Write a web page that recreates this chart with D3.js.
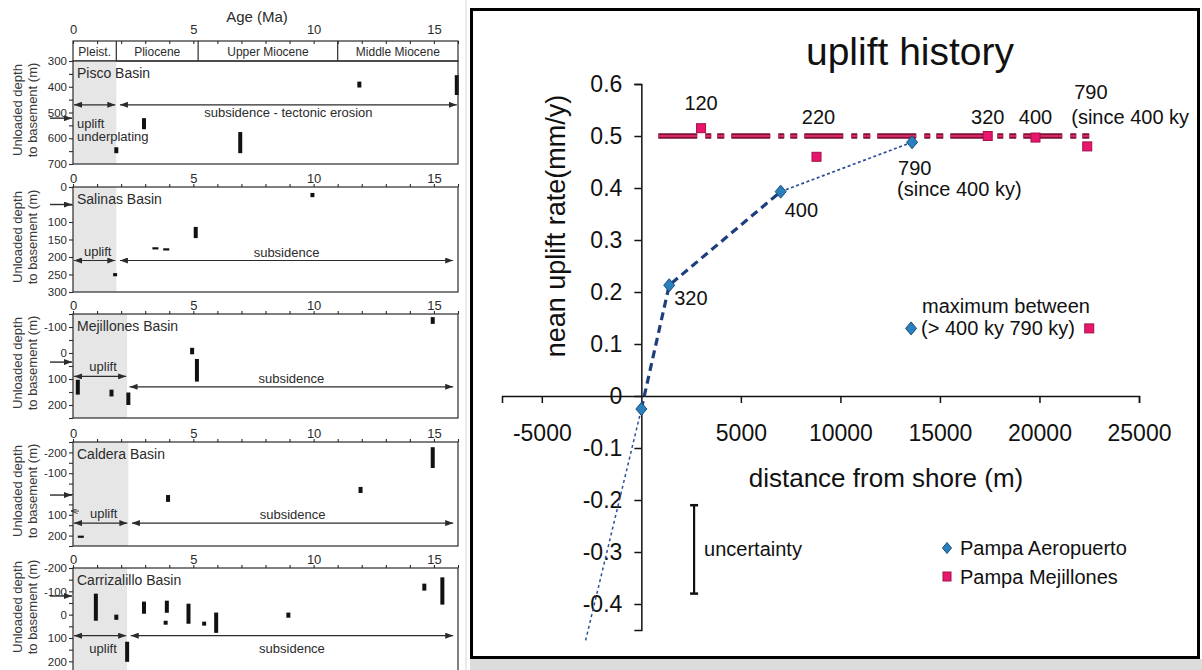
<!DOCTYPE html>
<html>
<head>
<meta charset="utf-8">
<script src="https://cdn.jsdelivr.net/npm/d3@7"></script>
<style>
  body { margin: 0; background: #fff; }
  svg { display: block; font-family: "Liberation Sans", Arial, Helvetica, sans-serif; }
</style>
</head>
<body>
<svg id="fig" width="1202" height="670"></svg>
<script>
// ---------- left figure data (age in Ma, depth in m) ----------
const ageTicks = [0, 5, 10, 15];
const epochNames = ["Pleist.", "Pliocene", "Upper Miocene", "Middle Miocene"];
const epochBounds = [0, 1.8, 5.2, 11.0, 16];

const basinNames = ["Pisco Basin", "Salinas Basin", "Mejillones Basin", "Caldera Basin", "Carrizalillo Basin"];
const basinDepthRanges = [[300, 700], [0, 300], [-150, 250], [-250, 250], [-200, 250]];
const basinDepthLabels = [
  [300, 400, 500, 600, 700],
  [0, 100, 150, 200, 250, 300],
  [-100, 0, 100, 200],
  [-200, -100, 100, 200],
  [-200, -100, 0, 100, 200]
];
const upliftEnd = [1.8, 1.8, 2.25, 2.3, 2.25];
const subsidenceStart = [1.95, 1.95, 2.35, 2.45, 2.4];
const subsidenceEnd = [15.95, 15.8, 15.8, 15.8, 15.8];
const upliftArrowDepth = [470, 210, 90, 140, 90];
const subsidenceArrowDepth = [470, 210, 130, 140, 90];
const presentDepth = [522, 50, 35, 5, -80];
const upliftText = [["uplift", "underplating"], ["uplift"], ["uplift"], ["uplift"], ["uplift"]];
const subsidenceText = ["subsidence - tectonic erosion", "subsidence", "subsidence", "subsidence", "subsidence"];

// bars: [age, top depth, bottom depth]
const piscoBars = [[11.9, 380, 403], [15.95, 355, 432], [2.95, 522, 565], [6.95, 576, 658], [1.8, 635, 658]];
const salinasBars = [[9.95, 17, 29], [5.1, 114, 146], [1.75, 246, 255]];
const mejillonesBars = [[14.95, -138, -112], [4.95, -20, 5], [5.15, 23, 110], [0.2, 103, 160], [1.6, 141, 167], [2.3, 152, 200]];
const calderaBars = [[14.95, -225, -125], [11.95, -34, -5], [3.95, 5, 38]];
const carrizalilloBars = [
  [0.95, -90, 26], [1.8, 0, 22], [2.25, 116, 202], [2.95, -56, -4], [3.9, -60, -8], [3.85, 26, 43],
  [4.8, -47, 39], [5.45, 30, 47], [5.95, -9, 78], [8.95, -9, 13], [14.6, -133, -103], [15.35, -160, -43]
];
const basinBars = [piscoBars, salinasBars, mejillonesBars, calderaBars, carrizalilloBars];
// short horizontal dashes: [age from, age to, depth]
const salinasDashes = [[3.3, 3.55, 175], [3.75, 4.0, 178]];
const calderaDashes = [[0.2, 0.45, 205]];
const basinDashes = [[], salinasDashes, [], calderaDashes, []];

// ---------- right chart data ----------
const aeroDist = [0, 1400, 7000, 13600];
const aeroRate = [-0.025, 0.213, 0.393, 0.488];
const aeroLabels = ["", "320", "400", "790"];
const aeroTrendDist = [-2800, 0];
const aeroTrendRate = [-0.47, -0.025];
const mejDist = [3000, 8800, 17400, 19800, 22400];
const mejRate = [0.515, 0.46, 0.5, 0.497, 0.48];
const mejLabels = ["120", "220", "320", "400", "790"];
const mejMeanRate = 0.5;
const mejMeanDist = [850, 22550];
const maxDist = [13550, 22500];
const maxRate = 0.13;
const uncertaintyDist = 2650;
const uncertaintyRate = [-0.21, -0.38];
const xTickValues = [-5000, 5000, 10000, 15000, 20000, 25000];
const yTickValues = [0.6, 0.5, 0.4, 0.3, 0.2, 0.1, 0, -0.1, -0.2, -0.3, -0.4];

// ---------- layout ----------
const svg = d3.select("#fig");
const ink = "#2b2b2b";
const defs = svg.append("defs");
defs.append("marker").attr("id", "ah")
  .attr("viewBox", "0 0 8 6").attr("refX", 8).attr("refY", 3)
  .attr("markerWidth", 8).attr("markerHeight", 6).attr("markerUnits", "userSpaceOnUse")
  .attr("orient", "auto-start-reverse")
  .append("path").attr("d", "M0,0L8,3L0,6Z").attr("fill", ink);
defs.append("marker").attr("id", "ahOpen")
  .attr("viewBox", "0 0 8 6").attr("refX", 8).attr("refY", 3)
  .attr("markerWidth", 7).attr("markerHeight", 5).attr("markerUnits", "userSpaceOnUse")
  .attr("orient", "auto")
  .append("path").attr("d", "M0,0L8,3L0,6").attr("fill", "none").attr("stroke", ink).attr("stroke-width", 1);

const xAge = d3.scaleLinear().domain([0, 16]).range([73, 458]);
const panelTop = [61, 187, 314, 442, 568];
const panelBottom = [164, 292, 418, 546, 673];
const titleMid = [110, 237, 363, 491, 607];

// "Age (Ma)" and epoch band
svg.append("text").attr("x", 257).attr("y", 22).attr("text-anchor", "middle")
  .attr("font-size", 15).attr("fill", ink).text("Age (Ma)");
svg.append("rect").attr("x", xAge(0)).attr("y", 41).attr("width", xAge(16) - xAge(0)).attr("height", 20)
  .attr("fill", "none").attr("stroke", ink).attr("stroke-width", 1.2);
epochNames.forEach((n, i) => {
  if (i > 0) svg.append("line").attr("x1", xAge(epochBounds[i])).attr("x2", xAge(epochBounds[i]))
    .attr("y1", 41).attr("y2", 61).attr("stroke", ink).attr("stroke-width", 1.2);
  svg.append("text").attr("x", (xAge(epochBounds[i]) + xAge(epochBounds[i + 1])) / 2).attr("y", 56)
    .attr("text-anchor", "middle").attr("font-size", 12).attr("fill", ink).text(n);
});

basinNames.forEach((name, i) => {
  const y = d3.scaleLinear().domain(basinDepthRanges[i]).range([panelTop[i], panelBottom[i]]);
  const g = svg.append("g");
  const top = panelTop[i], bot = panelBottom[i];

  g.append("rect").attr("x", xAge(0)).attr("y", top)
    .attr("width", xAge(upliftEnd[i]) - xAge(0)).attr("height", bot - top).attr("fill", "#e6e6e6");

  g.selectAll(".bar").data(basinBars[i]).join("rect")
    .attr("x", d => xAge(d[0]) - 2).attr("width", 4)
    .attr("y", d => y(d[1])).attr("height", d => y(d[2]) - y(d[1]))
    .attr("fill", "#111");
  g.selectAll(".dash").data(basinDashes[i]).join("rect")
    .attr("x", d => xAge(d[0])).attr("width", d => xAge(d[1]) - xAge(d[0]))
    .attr("y", d => y(d[2]) - 1).attr("height", 2.2).attr("fill", "#111");

  g.append("rect").attr("x", xAge(0)).attr("y", top).attr("width", xAge(16) - xAge(0)).attr("height", bot - top)
    .attr("fill", "none").attr("stroke", ink).attr("stroke-width", 1.2);

  // depth axis
  const dr = basinDepthRanges[i];
  const yAxis = d3.axisLeft(y).tickValues(d3.range(dr[0], dr[1] + 1, 50))
    .tickSize(4).tickPadding(2)
    .tickFormat(d => basinDepthLabels[i].includes(d) ? String(d) : "");
  g.append("g").attr("transform", `translate(${xAge(0)},0)`).call(yAxis)
    .call(a => a.select(".domain").remove())
    .call(a => a.selectAll("line").attr("stroke", ink).attr("stroke-width", 1.1))
    .call(a => a.selectAll("text").attr("font-size", 11.5).attr("fill", ink).attr("font-family", null));

  // age axis on top
  const ax = d3.axisTop(xAge).tickValues(d3.range(0, 17)).tickSizeOuter(0)
    .tickSize(i === 0 ? 0 : 3).tickPadding(i === 0 ? 7 : 1)
    .tickFormat(d => ageTicks.includes(d) ? String(d) : "");
  const axG = g.append("g").attr("transform", `translate(0,${i === 0 ? 41 : top})`).call(ax)
    .call(a => a.select(".domain").remove())
    .call(a => a.selectAll("line").attr("stroke", ink).attr("stroke-width", 1.1))
    .call(a => a.selectAll("text").attr("font-size", 13).attr("fill", ink).attr("font-family", null));
  if (i === 0) {
    axG.selectAll(".tick").append("line").attr("y2", 3).attr("stroke", ink).attr("stroke-width", 1.1);
  }

  // panel name
  g.append("text").attr("x", xAge(0) + 4).attr("y", top + 17).attr("font-size", 14).attr("fill", ink).text(name);

  // y title
  const tt = g.append("text").attr("transform", `translate(0,${titleMid[i]}) rotate(-90)`)
    .attr("text-anchor", "middle").attr("font-size", 13).attr("fill", "#3a3a3a");
  tt.append("tspan").attr("x", 0).attr("y", 22).text("Unloaded depth");
  tt.append("tspan").attr("x", 0).attr("y", 37).text("to basement (m)");

  // present-day depth arrow
  g.append("line").attr("x1", 50).attr("x2", 72).attr("y1", y(presentDepth[i])).attr("y2", y(presentDepth[i]))
    .attr("stroke", ink).attr("stroke-width", 1.4).attr("marker-end", "url(#ah)");

  // uplift / subsidence arrows
  const yu = y(upliftArrowDepth[i]), ys = y(subsidenceArrowDepth[i]);
  g.append("line").attr("x1", xAge(0) + 1).attr("x2", xAge(upliftEnd[i]) - 1).attr("y1", yu).attr("y2", yu)
    .attr("stroke", ink).attr("stroke-width", 1.2)
    .attr("marker-start", "url(#ah)").attr("marker-end", "url(#ah)");
  g.append("line").attr("x1", xAge(subsidenceStart[i])).attr("x2", xAge(subsidenceEnd[i])).attr("y1", ys).attr("y2", ys)
    .attr("stroke", ink).attr("stroke-width", 1.2)
    .attr("marker-start", "url(#ah)").attr("marker-end", "url(#ah)");

  const below = i === 0 || i === 4;
  if (i === 0) {
    upliftText[i].forEach((t, k) => {
      g.append("text").attr("x", xAge(0) + 4).attr("y", yu + 23 + k * 13.5)
        .attr("font-size", 13).attr("fill", ink).text(t);
    });
  } else {
    g.append("text").attr("x", (xAge(0) + xAge(upliftEnd[i])) / 2 + 3).attr("y", below ? yu + 17 : yu - 5)
      .attr("text-anchor", "middle").attr("font-size", 13).attr("fill", ink).text(upliftText[i][0]);
  }
  g.append("text").attr("x", (xAge(subsidenceStart[i]) + xAge(subsidenceEnd[i])) / 2)
    .attr("y", below ? ys + (i === 0 ? 12 : 17) : ys - 4)
    .attr("text-anchor", "middle").attr("font-size", 13).attr("fill", ink).text(subsidenceText[i]);

  // small open marker in Caldera panel
  if (i === 3) {
    g.append("line").attr("x1", 79).attr("x2", 71).attr("y1", y(82)).attr("y2", y(82))
      .attr("stroke", ink).attr("stroke-width", 0.8).attr("marker-end", "url(#ahOpen)");
  }
});

// faint separator
svg.append("line").attr("x1", 466).attr("x2", 466).attr("y1", 0).attr("y2", 670)
  .attr("stroke", "#d6d6d6").attr("stroke-width", 1);

// ---------- right chart ----------
const R = svg.append("g");
R.append("rect").attr("x", 470).attr("y", 659).attr("width", 732).attr("height", 11).attr("fill", "#dcdcdc");
R.append("rect").attr("x", 471.5).attr("y", 9.5).attr("width", 727).attr("height", 648)
  .attr("fill", "#fff").attr("stroke", "#000").attr("stroke-width", 3);

const x = d3.scaleLinear().domain([-7000, 25000]).range([502, 1139]);
const y = d3.scaleLinear().domain([-0.45, 0.6]).range([630, 84]);

R.append("text").attr("x", 910).attr("y", 65).attr("text-anchor", "middle")
  .attr("font-size", 39).attr("fill", "#111").text("uplift history");

R.append("g").attr("transform", `translate(0,${y(0)})`)
  .call(d3.axisBottom(x).tickValues(xTickValues).tickSizeOuter(0).tickSize(7).tickPadding(22).tickFormat(d => String(d)))
  .call(a => a.selectAll("line,path").attr("stroke", "#111").attr("stroke-width", 1.5))
  .call(a => a.selectAll("text").attr("font-size", 23).attr("fill", "#111").attr("font-family", null));

R.append("g").attr("transform", `translate(${x(0)},0)`)
  .call(d3.axisLeft(y).tickValues(yTickValues).tickSizeOuter(0).tickSize(7).tickPadding(12)
    .tickFormat(d => String(+d.toFixed(1))))
  .call(a => a.selectAll("line,path").attr("stroke", "#111").attr("stroke-width", 1.5))
  .call(a => a.selectAll("text").attr("font-size", 23).attr("fill", "#111").attr("font-family", null));

R.append("text").attr("x", 886).attr("y", 487).attr("text-anchor", "middle")
  .attr("font-size", 26).attr("fill", "#111").text("distance from shore (m)");
R.append("text").attr("transform", "translate(565,226) rotate(-90)").attr("text-anchor", "middle")
  .attr("font-size", 27).attr("fill", "#111").text("nean uplift rate(mm/y)");

// mean line (Pampa Mejillones)
const meanPts = mejMeanDist.map(d => [x(d), y(mejMeanRate)]);
R.append("path").attr("d", d3.line()(meanPts)).attr("stroke", "#7d1234").attr("stroke-width", 5.5)
  .attr("stroke-dasharray", "39,8,6,6,7,7").attr("fill", "none");
R.append("path").attr("d", d3.line()(meanPts)).attr("stroke", "#d8276a").attr("stroke-width", 1.8)
  .attr("stroke-dasharray", "39,8,6,6,7,7").attr("fill", "none");

// Pampa Aeropuerto lines
const aeroPts = aeroDist.map((d, k) => [x(d), y(aeroRate[k])]);
R.append("path").attr("d", d3.line()(aeroPts.slice(0, 3))).attr("fill", "none")
  .attr("stroke", "#1d3f7e").attr("stroke-width", 3.2).attr("stroke-dasharray", "8,5");
R.append("path").attr("d", d3.line()(aeroPts.slice(2))).attr("fill", "none")
  .attr("stroke", "#2a4f96").attr("stroke-width", 1.7).attr("stroke-dasharray", "3,2.5");
R.append("path").attr("d", d3.line()(aeroTrendDist.map((d, k) => [x(d), y(aeroTrendRate[k])]))).attr("fill", "none")
  .attr("stroke", "#2a4f96").attr("stroke-width", 1.5).attr("stroke-dasharray", "3,3");

const diamond = "M0,-6.5L5.5,0L0,6.5L-5.5,0Z";
const blue = "#2a80bd", blueEdge = "#1a4c78", pink = "#e8166c", pinkEdge = "#a3104b";

R.selectAll(".aero").data(aeroDist).join("path")
  .attr("d", diamond).attr("transform", (d, k) => `translate(${x(d)},${y(aeroRate[k])})`)
  .attr("fill", blue).attr("stroke", blueEdge).attr("stroke-width", 1);
R.selectAll(".mej").data(mejDist).join("rect")
  .attr("x", d => x(d) - 4.5).attr("y", (d, k) => y(mejRate[k]) - 4.5).attr("width", 9).attr("height", 9)
  .attr("fill", pink).attr("stroke", pinkEdge).attr("stroke-width", 1);

// point labels
const lab = (px, py, t, anchor) => R.append("text").attr("x", px).attr("y", py)
  .attr("text-anchor", anchor || "start").attr("font-size", 20).attr("fill", "#111").text(t);
const mejOff = [[0, -18], [2, -33], [0, -12], [0, -14]];
mejLabels.slice(0, 4).forEach((t, k) => lab(x(mejDist[k]) + mejOff[k][0], y(mejRate[k]) + mejOff[k][1], t, "middle"));
lab(x(mejDist[4]) - 13, y(mejRate[4]) - 47, mejLabels[4]);
lab(x(mejDist[4]) - 16, y(mejRate[4]) - 22, "(since 400 ky");
lab(x(aeroDist[1]) + 5, y(aeroRate[1]) + 20, aeroLabels[1]);
lab(x(aeroDist[2]) + 4, y(aeroRate[2]) + 25, aeroLabels[2]);
lab(x(aeroDist[3]) - 14, y(aeroRate[3]) + 33, aeroLabels[3]);
lab(x(aeroDist[3]) - 15, y(aeroRate[3]) + 54, "(since 400 ky)");

// maximum markers
R.append("path").attr("d", diamond).attr("transform", `translate(${x(maxDist[0])},${y(maxRate)})`)
  .attr("fill", blue).attr("stroke", blueEdge).attr("stroke-width", 1);
R.append("rect").attr("x", x(maxDist[1]) - 4.5).attr("y", y(maxRate) - 4.5).attr("width", 9).attr("height", 9)
  .attr("fill", pink).attr("stroke", pinkEdge).attr("stroke-width", 1);
lab(x(maxDist[0]) + 11, y(maxRate) - 15, "maximum between");
lab(x(maxDist[0]) + 10, y(maxRate) + 7, "(> 400 ky 790 ky)");

// uncertainty bar
const ux = x(uncertaintyDist);
R.append("line").attr("x1", ux).attr("x2", ux).attr("y1", y(uncertaintyRate[0])).attr("y2", y(uncertaintyRate[1]))
  .attr("stroke", "#111").attr("stroke-width", 2.2);
uncertaintyRate.forEach(v => R.append("line").attr("x1", ux - 4).attr("x2", ux + 4).attr("y1", y(v)).attr("y2", y(v))
  .attr("stroke", "#111").attr("stroke-width", 2.5));
lab(ux + 10, (y(uncertaintyRate[0]) + y(uncertaintyRate[1])) / 2 + 7, "uncertainty");

// legend
R.append("path").attr("d", "M0,-5.5L4.5,0L0,5.5L-4.5,0Z").attr("transform", "translate(947,548)")
  .attr("fill", blue).attr("stroke", blueEdge).attr("stroke-width", 1);
R.append("rect").attr("x", 943).attr("y", 572).attr("width", 8).attr("height", 9)
  .attr("fill", pink).attr("stroke", pinkEdge).attr("stroke-width", 1);
lab(960, 555, "Pampa Aeropuerto");
lab(960, 584, "Pampa Mejillones");
</script>
</body>
</html>
